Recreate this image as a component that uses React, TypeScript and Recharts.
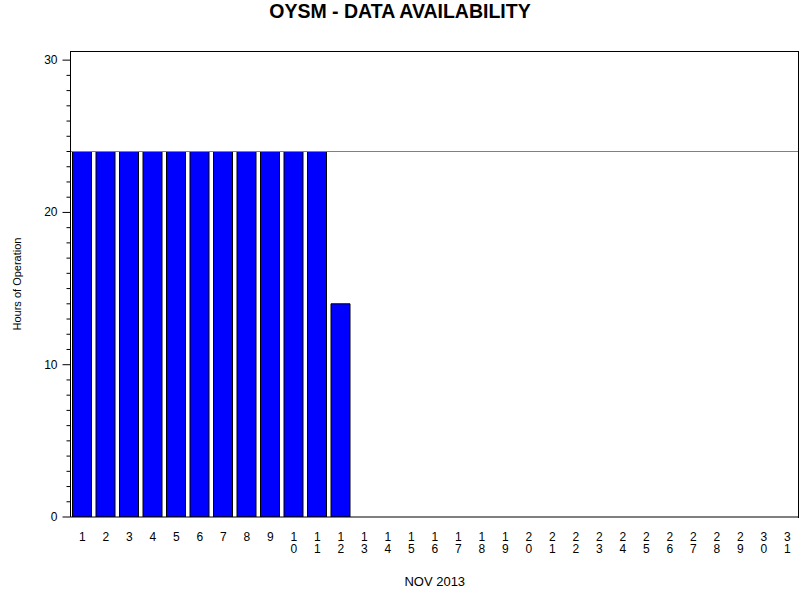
import React from 'react';
import { BarChart, Bar, XAxis, YAxis, ReferenceLine, Label } from 'recharts';

const days = Array.from({ length: 31 }, (_, i) => String(i + 1));
const hours = [24, 24, 24, 24, 24, 24, 24, 24, 24, 24, 24, 14, 0, 0, 0, 0, 0, 0, 0, 0, 0, 0, 0, 0, 0, 0, 0, 0, 0, 0, 0];
const yTicks = Array.from({ length: 31 }, (_, i) => i);
const majorTicks = [0, 10, 20, 30];

const data = days.map((d, i) => ({ day: d, hours: hours[i] }));

const FONT = '"Liberation Sans", Arial, sans-serif';

// day numbers are stacked one digit per line, like the original
const DayTick: React.FC<any> = ({ x, y, payload }) => {
  const chars = String(payload.value).split('');
  return (
    <text x={x} y={y + 12} textAnchor="middle" fontSize={12} fontFamily={FONT} fill="#000">
      {chars.map((c, i) => (
        <tspan key={i} x={x} dy={i === 0 ? 0 : 12}>
          {c}
        </tspan>
      ))}
    </text>
  );
};

const HourTick: React.FC<any> = ({ x, y, payload }) => {
  const major = majorTicks.includes(payload.value);
  return (
    <g>
      <line x1={x - (major ? 8 : 4)} x2={x} y1={y} y2={y} stroke="#000" />
      {major && (
        <text x={x - 13} y={y + 4} textAnchor="end" fontSize={12} fontFamily={FONT} fill="#000">
          {payload.value}
        </text>
      )}
    </g>
  );
};

export default function App() {
  return (
    <div style={{ position: 'absolute', left: 0, top: 0, width: 800, height: 600, background: '#fff' }}>
      <div
        style={{
          position: 'absolute', left: 0, top: 0, width: 800, textAlign: 'center',
          fontFamily: FONT, fontWeight: 'bold', fontSize: 19.5, lineHeight: 1.15,
        }}
      >
        OYSM - DATA AVAILABILITY
      </div>
      <BarChart width={800} height={600} data={data} margin={{ top: 51, right: 1, left: 0, bottom: 2 }}>
        <XAxis
          dataKey="day"
          interval={0}
          tick={<DayTick />}
          tickLine={false}
          tickSize={0}
          tickMargin={12}
          height={81}
          axisLine={{ stroke: '#000' }}
        >
          <Label value="NOV 2013" position="insideBottom" offset={12} fontSize={13} fontFamily={FONT} fill="#000" />
        </XAxis>
        <YAxis
          domain={[0, 30.6]}
          ticks={yTicks}
          interval={0}
          allowDataOverflow
          tick={<HourTick />}
          tickLine={false}
          tickSize={0}
          tickMargin={0}
          width={70.5}
          axisLine={{ stroke: '#000' }}
        >
          <Label
            value="Hours of Operation"
            angle={-90}
            position="insideLeft"
            offset={17}
            textAnchor="middle"
            fontSize={11}
            fontFamily={FONT}
            fill="#000"
          />
        </YAxis>
        <Bar dataKey="hours" fill="#0000FF" stroke="#000" strokeWidth={1} barSize={19} isAnimationActive={false} />
        <ReferenceLine y={24} stroke="#808080" strokeWidth={1} />
      </BarChart>
      {/* top and right frame of the plot area */}
      <div
        style={{
          position: 'absolute', left: 70, top: 51, width: 728, height: 466,
          borderTop: '1px solid #000', borderRight: '1px solid #000', pointerEvents: 'none',
        }}
      />
    </div>
  );
}
